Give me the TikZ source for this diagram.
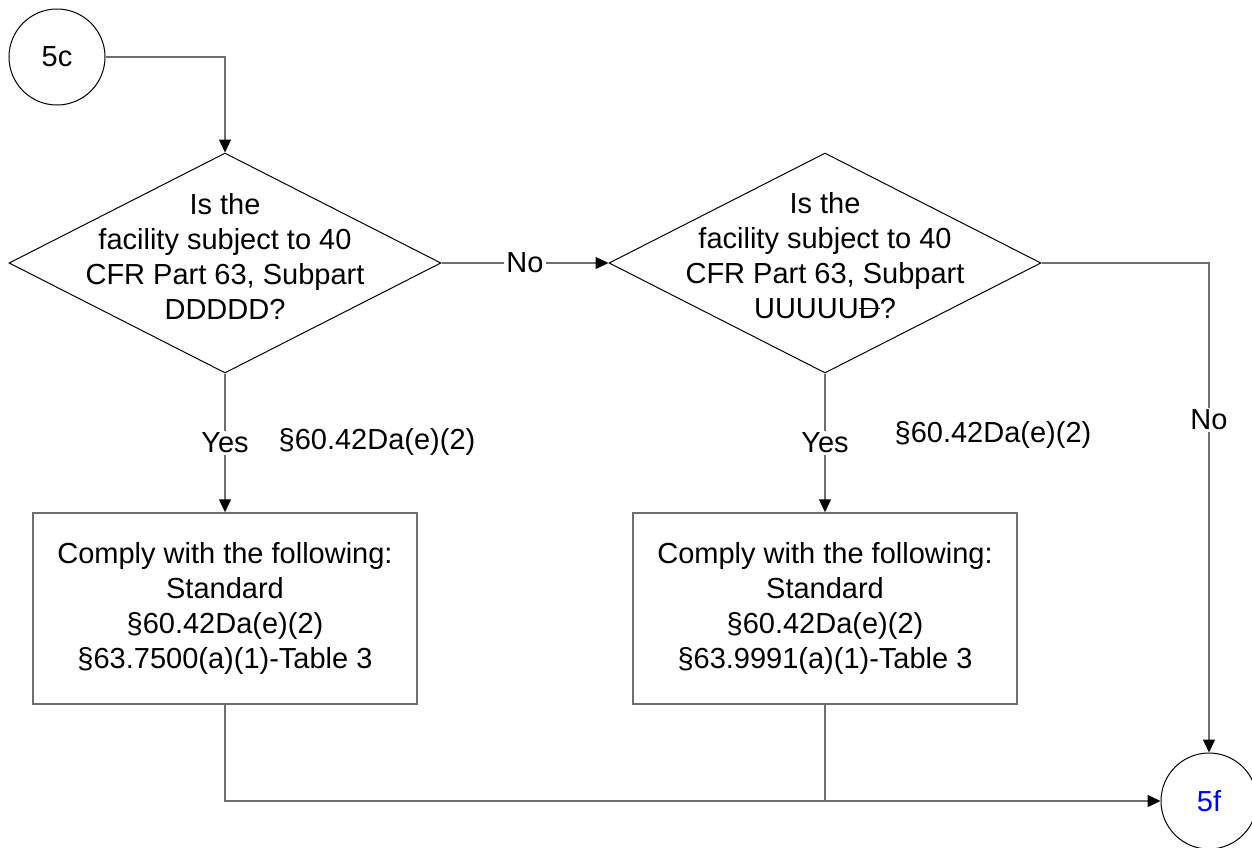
\documentclass[tikz,border=0pt]{standalone}
\usepackage{fontspec}
\setmainfont{Liberation Sans}
\usetikzlibrary{shapes.geometric, arrows.meta, positioning}
\definecolor{LineGray}{HTML}{6E6E6E}
\definecolor{LinkBlue}{HTML}{0000FF}
\newcommand{\struckletter}[1]{\setbox0\hbox{#1}\rlap{\rule[0.33em]{\wd0}{0.06em}}\box0}

\begin{document}
\begin{tikzpicture}[x=1pt, y=-1pt,
    font=\fontsize{29}{35}\selectfont,
    connector/.style={draw=LineGray, line width=1.5pt},
    arrowed/.style={connector, -{Triangle[length=13pt, width=12pt, color=black]}},
    decision/.style={diamond, draw=black, line width=1pt, inner sep=0pt,
                     minimum width=432pt, minimum height=220pt},
    stepbox/.style={rectangle, draw=LineGray, line width=1.5pt,
                    minimum width=384pt, minimum height=191pt, align=center},
    offpage/.style={circle, draw=black, line width=1pt, minimum size=96pt, inner sep=0pt},
    edgelabel/.style={fill=white, inner sep=2pt}]
    \useasboundingbox (0,0) rectangle (1252,847);

    % connectors to other pages
    \node[offpage] (c5c) at (57,57) {5c};
    \node[offpage, text=LinkBlue] (c5f) at (1209,801) {5f};

    % the two questions
    \node[decision] (qDDDDD) at (225,263) {};
    \node[align=center] (qDDDDDtext) at ([yshift=7pt]qDDDDD.center)
        {Is the\\facility subject to 40\\CFR Part 63, Subpart\\DDDDD?};
    \node[decision] (qUUUUU) at (825,263) {};
    \node[align=center] (qUUUUUtext) at ([yshift=7pt]qUUUUU.center)
        {Is the\\facility subject to 40\\CFR Part 63, Subpart\\UUUUU\struckletter{D}?};

    % what to comply with
    \node[stepbox] (complyDDDDD) at (225,608.5)
        {Comply with the following:\\Standard\\\S60.42Da(e)(2)\\\S63.7500(a)(1)-Table 3};
    \node[stepbox] (complyUUUUU) at (825,608.5)
        {Comply with the following:\\Standard\\\S60.42Da(e)(2)\\\S63.9991(a)(1)-Table 3};

    \node (citeDDDDD) at (377,442) {\S60.42Da(e)(2)};
    \node (citeUUUUU) at (993,435) {\S60.42Da(e)(2)};

    % flow
    \draw[arrowed] (c5c.east) -| (qDDDDD.north);
    \draw[arrowed] (qDDDDD.east) -- node[edgelabel] {No} (qUUUUU.west);
    \draw[arrowed] (qDDDDD.south) -- node[edgelabel] {Yes} (complyDDDDD.north);
    \draw[arrowed] (qUUUUU.south) -- node[edgelabel] {Yes} (complyUUUUU.north);
    \draw[arrowed] (qUUUUU.east) -| node[edgelabel, pos=0.66] {No} (c5f.north);
    \draw[arrowed] (complyDDDDD.south) |- (c5f.west);
    \draw[connector] (complyUUUUU.south) -- (complyUUUUU.south |- c5f.west);
\end{tikzpicture}
\end{document}
